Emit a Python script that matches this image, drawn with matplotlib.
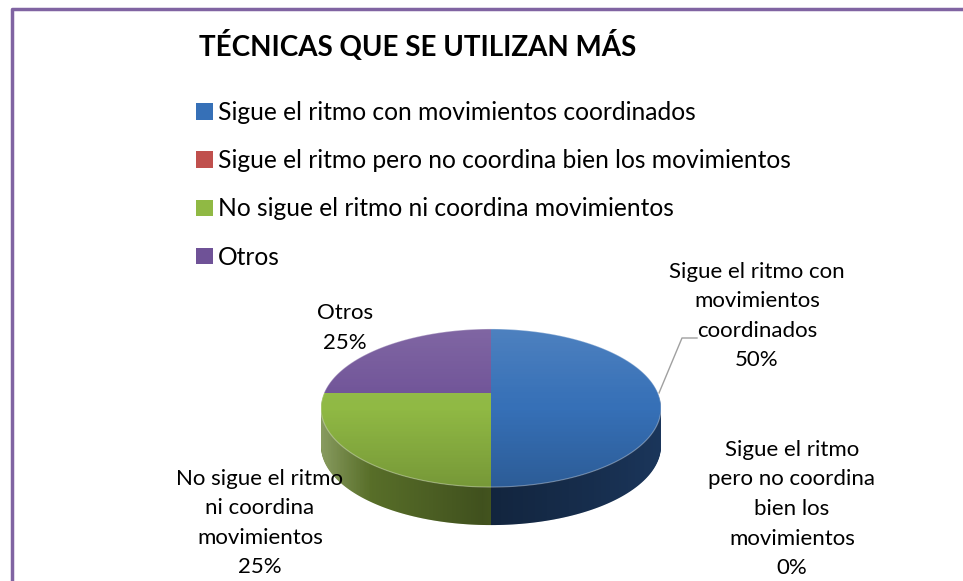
import numpy as np
import matplotlib.pyplot as plt
from matplotlib.path import Path
from matplotlib.patches import Polygon, PathPatch

plt.rcParams["font.family"] = ["Lato", "DejaVu Sans"]

# Datos del gráfico
titulo = "TÉCNICAS QUE SE UTILIZAN MÁS"
categorias = ["Sigue el ritmo con movimientos coordinados",
              "Sigue el ritmo pero no coordina bien los movimientos",
              "No sigue el ritmo ni coordina movimientos",
              "Otros"]
etiquetas = ["Sigue el ritmo con\nmovimientos\ncoordinados",
             "Sigue el ritmo\npero no coordina\nbien los\nmovimientos",
             "No sigue el ritmo\nni coordina\nmovimientos",
             "Otros"]
valores = [50, 0, 25, 25]

colores = ["#3670b7", "#c0504d", "#90b944", "#6f5297"]
colores_lado = ["#1b365b", "#7a2f2d", "#637c2e", "#4b3668"]

W, H = 963, 581
fig = plt.figure(figsize=(W / 100, H / 100), dpi=100)
ax = fig.add_axes([0, 0, 1, 1])

# geometría del pastel 3D (en píxeles, con perspectiva)
cx, cy = 491, H - 393
a, b, k = 76.2, 166.9, 0.19
dz = 38


def proyectar(p):
    u, v = p[:, 0], p[:, 1]
    den = 1 + k * v
    return np.c_[cx + b * u / den, cy + a * v / den]


def contorno(c):
    th = np.radians(np.linspace(c.theta1, c.theta2, 150))
    return np.vstack([[c.center], np.c_[np.cos(th), np.sin(th)] * c.r + c.center])


cunas, _ = ax.pie(valores, colors=colores, startangle=90, counterclock=False,
                  wedgeprops=dict(linewidth=0))
formas = []
for c in cunas:
    formas.append(proyectar(contorno(c)))
    c.remove()

# lado (capas apiladas)
n = 45
for j in range(n, 0, -1):
    for f, col in zip(formas, colores_lado):
        ax.add_patch(Polygon(f - [0, dz * j / n], closed=True, fc=col, lw=0, zorder=1))

# sombreado horizontal del lado
t = np.linspace(np.pi + np.arcsin(k), 2 * np.pi - np.arcsin(k), 200)
arco = proyectar(np.c_[np.cos(t), np.sin(t)])
banda = PathPatch(Path(np.vstack([arco, arco[::-1] - [0, dz]])), fc="none", lw=0)
ax.add_patch(banda)
xs = np.linspace(-1, 1, 300)
alfa = np.interp(xs, [-1, -0.6, -0.05, 0.05, 0.6, 1], [0.0, 0.15, 0.35, 0.3, 0.15, 0.0])
blanco = np.interp(xs, [-1, -0.7, 1], [0.25, 0.0, 0.0])
sombra = np.zeros((1, len(xs), 4))
sombra[0, :, 3] = alfa
sombra_b = np.ones((1, len(xs), 4))
sombra_b[0, :, 3] = blanco
ext = (cx - 171, cx + 171, cy - 100 - dz, cy)
for img in (sombra_b, sombra):
    im = ax.imshow(img, extent=ext, aspect="auto", zorder=3)
    im.set_clip_path(banda)

# cara superior
for f, col in zip(formas, colores):
    ax.add_patch(Polygon(f, closed=True, fc=col, lw=0, zorder=4))

t2 = np.linspace(0, 2 * np.pi, 300)
elipse = proyectar(np.c_[np.cos(t2), np.sin(t2)])
tapa = Polygon(elipse, closed=True, fc="none", lw=0)
ax.add_patch(tapa)
ys = np.linspace(0, 1, 200)
grad = np.zeros((len(ys), 1, 4))
grad[:, 0, :3] = (ys < 0.5)[:, None] * 1.0
grad[:, 0, 3] = np.where(ys < 0.5, 0.12 * (1 - 2 * ys), 0.18 * (2 * ys - 1))
im = ax.imshow(grad, extent=(cx - 171, cx + 171, cy - 95, cy + 65), aspect="auto", zorder=5)
im.set_clip_path(tapa)
ax.add_patch(Polygon(elipse, closed=True, fc="none", ec="white", lw=0.8, alpha=0.35, zorder=6))

# marco morado
ax.plot([12, 12, W], [0, H - 9, H - 9], color="#8064a2", lw=2.5, solid_capstyle="butt")

# título y leyenda
ax.text(418, H - 45, titulo, ha="center", va="center", fontsize=20, fontweight="bold")
fig.legend(cunas, categorias, loc="upper left", bbox_to_anchor=(184 / W, 1 - 89 / H),
           frameon=False, fontsize=17.7, handlelength=0.66, handleheight=0.66,
           handletextpad=0.22, labelspacing=1.02, borderpad=0)

# etiquetas de datos
total = sum(valores)
pos = [(757, 316), (792, 509), (260, 523), (345, 328)]
for et, v, (px, py) in zip(etiquetas, valores, pos):
    ax.text(px, H - py, f"{et}\n{v / total:.0%}", ha="center", va="center",
            fontsize=16, linespacing=1.6)

# línea guía
ax.plot([659, 682, 697], [H - 393, H - 338, H - 338], color="#a0a0a0", lw=1)

ax.set_aspect("auto")
ax.set_xlim(0, W)
ax.set_ylim(0, H)
ax.axis("off")

fig.savefig("out.png", dpi=100)
